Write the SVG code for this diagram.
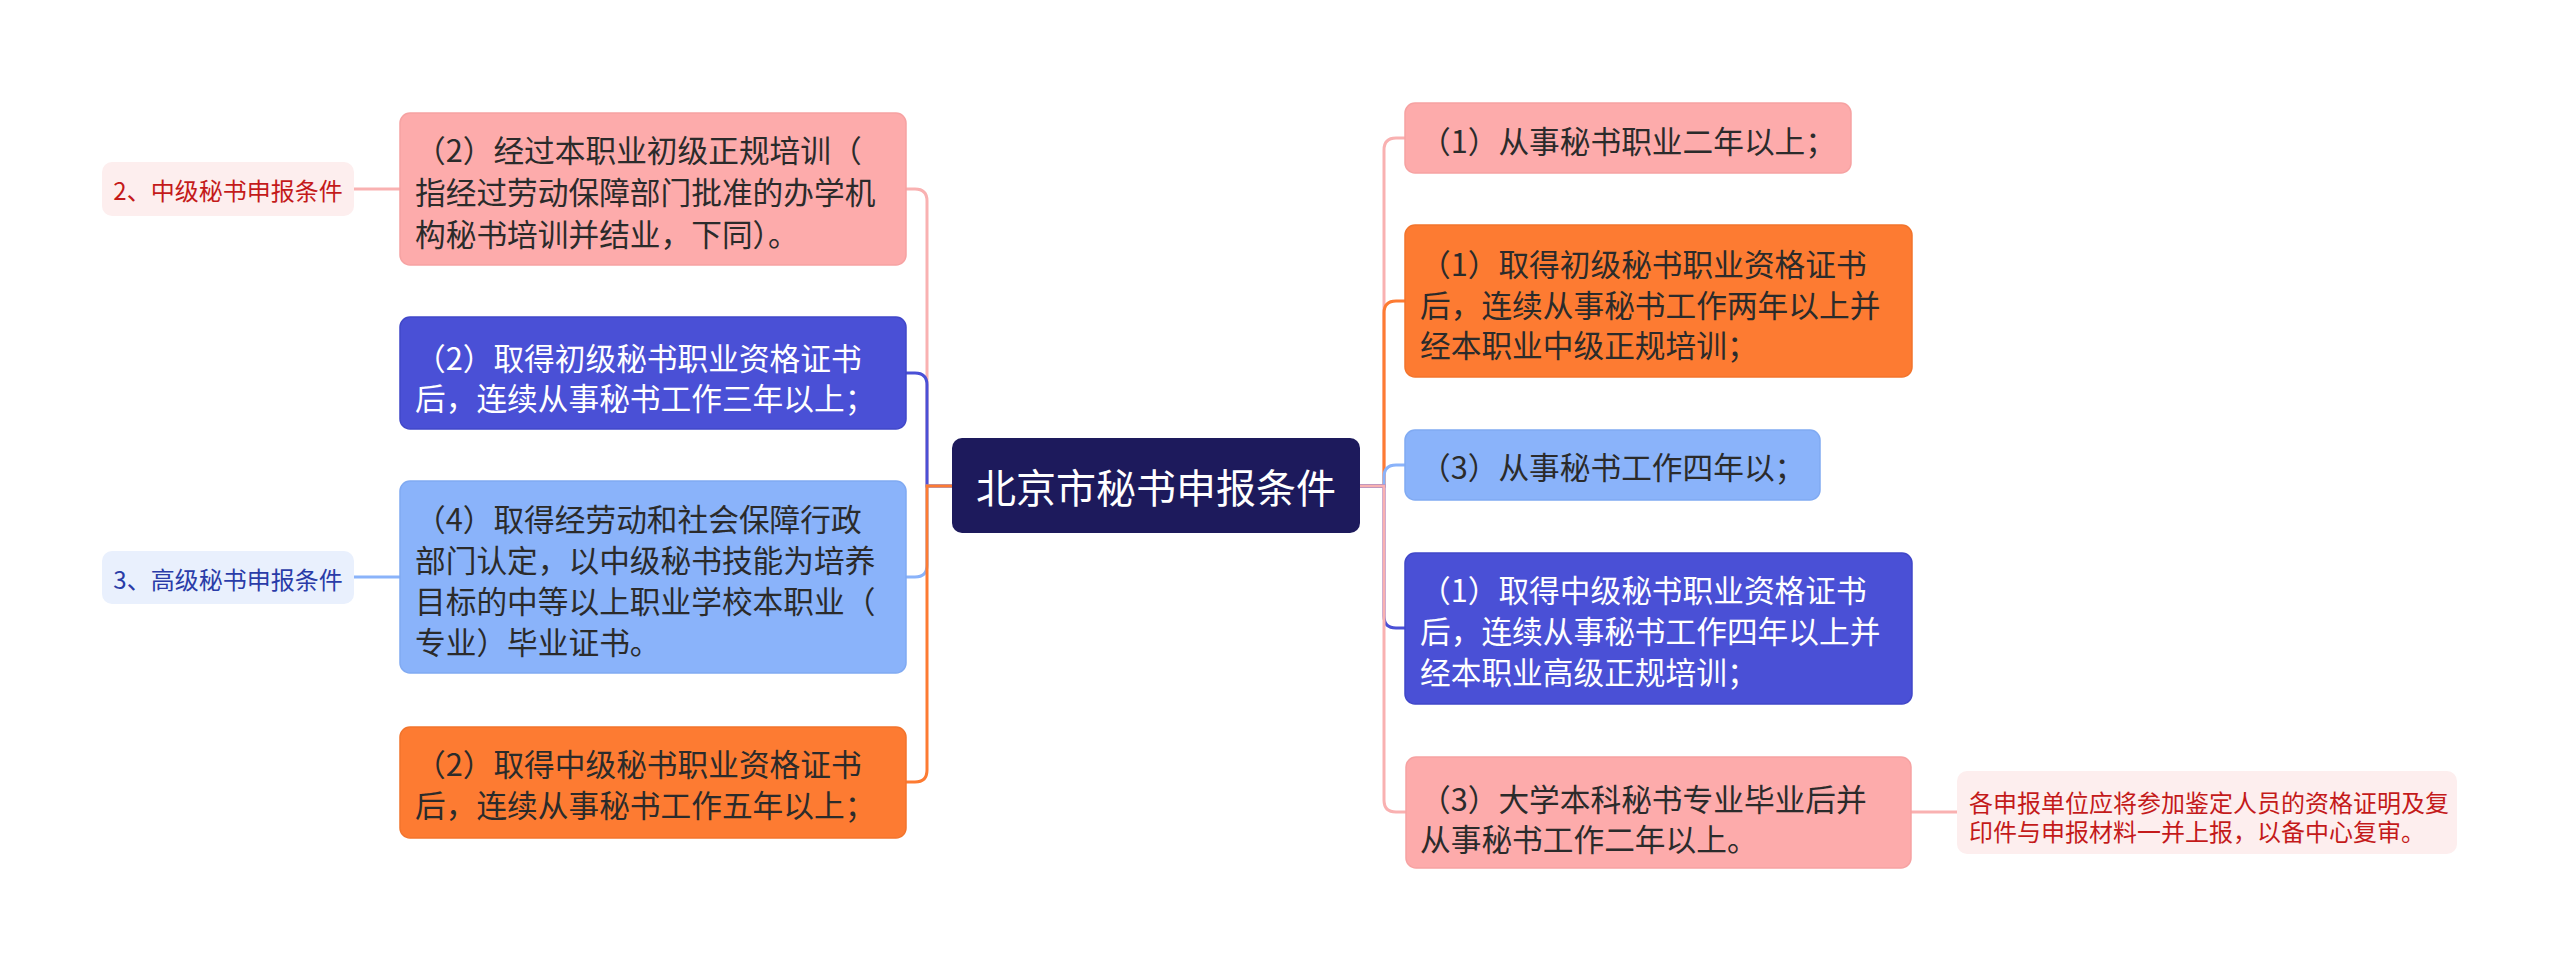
<svg xmlns="http://www.w3.org/2000/svg" width="2560" height="971" viewBox="0 0 2560 971">
<style>
text{font-family:"Noto Sans CJK SC","Noto Sans",sans-serif;dominant-baseline:central}
.t{font-size:30.7px;fill:#2b2b2b}
.w{font-size:30.7px;fill:#ffffff}
.s{font-size:24px}
.c{fill:none;stroke-width:3;stroke-linecap:round}
.pk{fill:#fdabab;stroke:#f6a2a2;stroke-width:1.5}
.bl{fill:#4a50d6;stroke:#4047c9;stroke-width:1.5}
.lb{fill:#8ab3fa;stroke:#80aaf2;stroke-width:1.5}
.or{fill:#fd7b32;stroke:#f2742c;stroke-width:1.5}
</style>
<rect width="2560" height="971" fill="#ffffff"/>
<g id="connectors">
<path class="c" stroke="#f9b1b1" d="M952,486 H927 V201 Q927,189 915,189 H906"/>
<path class="c" stroke="#4a50d6" d="M952,486 H927 V385 Q927,373 915,373 H906"/>
<path class="c" stroke="#8ab3fa" d="M952,486 H927 V565 Q927,577 915,577 H906"/>
<path class="c" stroke="#fd7b32" d="M952,486 H927 V770 Q927,782 915,782 H906"/>
<path class="c" stroke="#f9b1b1" d="M354,189 H400"/>
<path class="c" stroke="#8ab3fa" d="M354,577 H400"/>
<path class="c" stroke="#f9b1b1" d="M1360,486 H1384 V150 Q1384,138 1396,138 H1405"/>
<path class="c" stroke="#fd7b32" d="M1360,486 H1384 V313 Q1384,301 1396,301 H1405"/>
<path class="c" stroke="#8ab3fa" d="M1360,486 H1384 V477 Q1384,465 1396,465 H1405"/>
<path class="c" stroke="#4a50d6" d="M1360,486 H1384 V616 Q1384,628 1396,628 H1405"/>
<path class="c" stroke="#f9b1b1" d="M1360,486 H1384 V800 Q1384,812 1396,812 H1406"/>
<path class="c" stroke="#f9b1b1" d="M1911,812 H1957"/>
</g>
<g id="center">
<rect x="952" y="438" width="408" height="95" rx="10" fill="#1d1a5c"/>
<text x="1156" y="486" text-anchor="middle" font-size="40" fill="#ffffff">北京市秘书申报条件</text>
</g>
<g id="label-mid">
<rect x="102" y="162" width="252" height="54" rx="10" fill="#fdeeee"/>
<text class="s" x="228" y="189" text-anchor="middle" fill="#c41a1a">2、中级秘书申报条件</text>
</g>
<g id="label-high">
<rect x="102" y="551" width="252" height="53" rx="10" fill="#e9f0fd"/>
<text class="s" x="228" y="578" text-anchor="middle" fill="#2a3ca8">3、高级秘书申报条件</text>
</g>
<g id="L1">
<rect class="pk" x="400" y="113" width="506" height="152" rx="10"/>
<text class="t" x="415" y="148">（2）经过本职业初级正规培训（</text>
<text class="t" x="415" y="190">指经过劳动保障部门批准的办学机</text>
<text class="t" x="415" y="232">构秘书培训并结业，下同）。</text>
</g>
<g id="L2">
<rect class="bl" x="400" y="317" width="506" height="112" rx="10"/>
<text class="w" x="415" y="356">（2）取得初级秘书职业资格证书</text>
<text class="w" x="415" y="396">后，连续从事秘书工作三年以上；</text>
</g>
<g id="L3">
<rect class="lb" x="400" y="481" width="506" height="192" rx="10"/>
<text class="t" x="415" y="517">（4）取得经劳动和社会保障行政</text>
<text class="t" x="415" y="558">部门认定，以中级秘书技能为培养</text>
<text class="t" x="415" y="599">目标的中等以上职业学校本职业（</text>
<text class="t" x="415" y="640">专业）毕业证书。</text>
</g>
<g id="L4">
<rect class="or" x="400" y="727" width="506" height="111" rx="10"/>
<text class="t" x="415" y="762">（2）取得中级秘书职业资格证书</text>
<text class="t" x="415" y="803">后，连续从事秘书工作五年以上；</text>
</g>
<g id="R1">
<rect class="pk" x="1405" y="103" width="446" height="70" rx="10"/>
<text class="t" x="1420" y="139">（1）从事秘书职业二年以上；</text>
</g>
<g id="R2">
<rect class="or" x="1405" y="225" width="507" height="152" rx="10"/>
<text class="t" x="1420" y="262">（1）取得初级秘书职业资格证书</text>
<text class="t" x="1420" y="303">后，连续从事秘书工作两年以上并</text>
<text class="t" x="1420" y="343">经本职业中级正规培训；</text>
</g>
<g id="R3">
<rect class="lb" x="1405" y="430" width="415" height="70" rx="10"/>
<text class="t" x="1420" y="465">（3）从事秘书工作四年以；</text>
</g>
<g id="R4">
<rect class="bl" x="1405" y="553" width="507" height="151" rx="10"/>
<text class="w" x="1420" y="588">（1）取得中级秘书职业资格证书</text>
<text class="w" x="1420" y="629">后，连续从事秘书工作四年以上并</text>
<text class="w" x="1420" y="670">经本职业高级正规培训；</text>
</g>
<g id="R5">
<rect class="pk" x="1406" y="757" width="505" height="111" rx="10"/>
<text class="t" x="1420" y="797">（3）大学本科秘书专业毕业后并</text>
<text class="t" x="1420" y="837">从事秘书工作二年以上。</text>
</g>
<g id="note">
<rect x="1957" y="771" width="500" height="83" rx="10" fill="#fdeeee"/>
<text class="s" x="1969" y="801" fill="#c41a1a">各申报单位应将参加鉴定人员的资格证明及复</text>
<text class="s" x="1969" y="830" fill="#c41a1a">印件与申报材料一并上报，以备中心复审。</text>
</g>
</svg>
